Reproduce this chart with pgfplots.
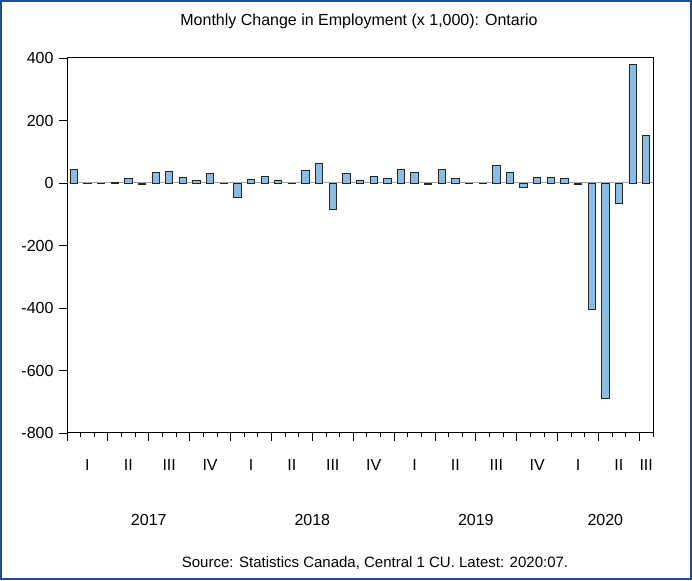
\documentclass[border=0pt]{standalone}
\usepackage{fontspec}
\setmainfont{Liberation Sans}
\usepackage{pgfplots}
\pgfplotsset{compat=1.18}
\definecolor{framecol}{RGB}{31,78,140}
\definecolor{barfill}{RGB}{139,188,230}

\begin{document}
\begin{tikzpicture}[x=1pt,y=1pt]
\useasboundingbox (0,0) rectangle (692,580);
\draw[framecol, line width=2pt] (1,1) rectangle (691,579);
\node[font=\fontsize{16}{18}\selectfont] at (359,559) {Monthly Change in Employment (x 1,000): Ontario};
\node[font=\fontsize{15}{18}\selectfont] at (375,17) {Source: Statistics Canada, Central 1 CU. Latest: 2020:07.};

\begin{axis}[
    at={(67pt,147pt)}, anchor=south west,
    scale only axis,
    width=586pt, height=375pt,
    xmin=0, xmax=43,
    ymin=-800, ymax=400,
    ytick={-800,-600,...,400},
    xtick={0,3,...,42},
    minor xtick={0,...,43},
    xticklabels={},
    tick align=outside,
    xtick pos=left, ytick pos=left,
    major tick length=8pt,
    minor tick length=4pt,
    axis line style={line width=1pt},
    tick style={black, line width=0.8pt},
    /pgf/number format/assume math mode=true,
    yticklabel style={font=\fontsize{16}{18}\selectfont, xshift=-2pt},
    clip=false,
]
\addplot[gray!70, line width=1pt, forget plot] coordinates {(0,0) (43,0)};
\addplot[ybar, bar width=7.3pt, draw=black!85, fill=barfill, line width=0.8pt] coordinates {
(0.5,42) (1.5,-2) (2.5,-1) (3.5,2) (4.5,14) (5.5,-5) (6.5,33) (7.5,36) (8.5,18) (9.5,7)
(10.5,31) (11.5,-1) (12.5,-45) (13.5,10) (14.5,22) (15.5,8) (16.5,-2) (17.5,39) (18.5,64) (19.5,-85)
(20.5,31) (21.5,9) (22.5,22) (23.5,16) (24.5,42) (25.5,35) (26.5,-5) (27.5,43) (28.5,14) (29.5,-2)
(30.5,-2) (31.5,56) (32.5,33) (33.5,-13) (34.5,17) (35.5,17) (36.5,16) (37.5,-4) (38.5,-403) (39.5,-688)
(40.5,-64) (41.5,378) (42.5,151)
};
\begin{scope}[font=\fontsize{16}{18}\selectfont]
\node at (axis cs:1.5,-800)  [yshift=-32pt] {I};
\node at (axis cs:4.5,-800)  [yshift=-32pt] {II};
\node at (axis cs:7.5,-800)  [yshift=-32pt] {III};
\node at (axis cs:10.5,-800) [yshift=-32pt] {IV};
\node at (axis cs:13.5,-800) [yshift=-32pt] {I};
\node at (axis cs:16.5,-800) [yshift=-32pt] {II};
\node at (axis cs:19.5,-800) [yshift=-32pt] {III};
\node at (axis cs:22.5,-800) [yshift=-32pt] {IV};
\node at (axis cs:25.5,-800) [yshift=-32pt] {I};
\node at (axis cs:28.5,-800) [yshift=-32pt] {II};
\node at (axis cs:31.5,-800) [yshift=-32pt] {III};
\node at (axis cs:34.5,-800) [yshift=-32pt] {IV};
\node at (axis cs:37.5,-800) [yshift=-32pt] {I};
\node at (axis cs:40.5,-800) [yshift=-32pt] {II};
\node at (axis cs:42.5,-800) [yshift=-32pt] {III};
\node at (axis cs:6,-800)    [yshift=-87pt] {2017};
\node at (axis cs:18,-800)   [yshift=-87pt] {2018};
\node at (axis cs:30,-800)   [yshift=-87pt] {2019};
\node at (axis cs:39.5,-800) [yshift=-87pt] {2020};
\end{scope}
\end{axis}
\end{tikzpicture}
\end{document}
